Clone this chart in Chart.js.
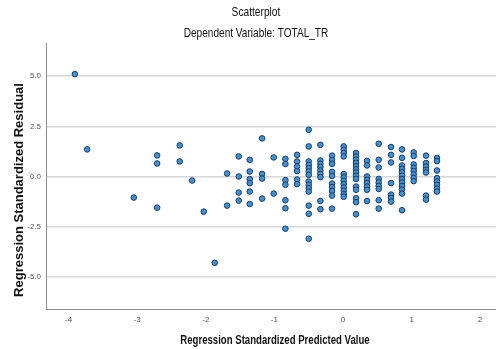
<!DOCTYPE html>
<html>
<head>
<meta charset="utf-8">
<script src="https://cdn.jsdelivr.net/npm/chart.js@4/dist/chart.umd.min.js"></script>
<style>
    html, body { margin: 0; padding: 0; background: #fff; }
    #wrap { width: 496px; height: 349px; }
</style>
</head>
<body>
<div id="wrap"><canvas id="scatter-chart"></canvas></div>
<script>
// Predicted value of each column of cases (x) and the residuals stacked in it (y)
const predictedCols = [-3.91, -3.73, -3.05, -2.71, -2.38, -2.20, -2.03, -1.87, -1.69, -1.52,
    -1.36, -1.18, -1.01, -0.84, -0.67, -0.50, -0.33, -0.16, 0.01, 0.19,
    0.35, 0.52, 0.70, 0.86, 1.03, 1.21, 1.37];
const residualCols = [
    [5.1],
    [1.35],
    [-1.05],
    [1.05, 0.65, -1.55],
    [1.55, 0.75],
    [-0.2],
    [-1.75],
    [-4.3],
    [0.15, -1.45],
    [1.0, 0.0, -0.8, -1.2],
    [0.83, 0.25, -0.13, -0.33, -0.75, -1.37],
    [1.9, 0.13, -0.1, -1.1],
    [0.95, -0.85],
    [0.88, 0.62, -0.18, -0.41, -1.18, -1.58, -2.6],
    [1.08, 0.75, 0.5, 0.27, -0.15, -0.38],
    [2.33, 1.5, 0.75, 0.58, 0.42, 0.25, 0.08, -0.25, -0.41, -0.58, -0.75, -1.45, -1.86, -3.1],
    [1.58, 0.8, 0.63, 0.47, 0.3, 0.13, -0.03, -1.22, -1.63],
    [1.04, 0.83, 0.63, 0.23, 0.03, -0.35, -0.53, -0.72, -0.95, -1.6],
    [1.5, 1.33, 1.17, 1.0, 0.12, -0.05, -0.21, -0.38, -0.55, -0.71, -0.88, -1.01],
    [1.17, 1.0, 0.84, 0.68, 0.52, 0.36, 0.2, 0.04, -0.12, -0.5, -0.66, -1.08, -1.28, -1.88],
    [0.78, 0.55, 0.0, -0.17, -0.33, -0.5, -0.66, -1.22],
    [1.63, 0.83, 0.45, -0.12, -0.3, -0.47, -0.62, -1.18, -1.6],
    [1.47, 1.08, 0.7, -0.33, -0.9, -1.07, -1.25],
    [1.35, 0.93, 0.55, 0.38, 0.21, 0.04, -0.13, -0.3, -0.47, -0.65, -0.85, -1.68],
    [1.2, 1.02, 0.6, 0.43, 0.27, 0.1, -0.07, -0.23],
    [1.04, 0.67, 0.5, 0.33, 0.2, -0.95, -1.15],
    [0.92, 0.77, 0.3, -0.08, -0.25, -0.42, -0.6, -0.75]
];
const xTicks = [-4, -3, -2, -1, 0, 1, 2];
const yTicks = [-5, -2.5, 0, 2.5, 5];

const FONT = '"Liberation Sans", Arial, sans-serif';

var points = [];
predictedCols.forEach(function (x, i) {
    residualCols[i].forEach(function (y) {
        points.push({ x: x, y: y });
    });
});

// squeezed horizontal text like the exported graph
function narrowText(ctx, text, x, y, font, squeeze) {
    ctx.save();
    ctx.font = font;
    ctx.translate(x, y);
    ctx.scale(squeeze, 1);
    ctx.fillText(text, 0, 0);
    ctx.restore();
}

// chart titles and axis titles
var titles = {
    id: 'titles',
    afterDraw: function (chart) {
        var ctx = chart.ctx;
        var area = chart.chartArea;
        ctx.save();
        ctx.fillStyle = '#111';
        ctx.textAlign = 'center';
        ctx.textBaseline = 'middle';
        narrowText(ctx, 'Scatterplot', 256, 13, '12px ' + FONT, 0.85);
        narrowText(ctx, 'Dependent Variable: TOTAL_TR', 256, 34, '12px ' + FONT, 0.84);
        narrowText(ctx, 'Regression Standardized Predicted Value', area.left + 229, 341, 'bold 12px ' + FONT, 0.8);
        ctx.font = 'bold 13px ' + FONT;
        ctx.translate(19, area.top + 147);
        ctx.rotate(-Math.PI / 2);
        ctx.fillText('Regression Standardized Residual', 0, 0);
        ctx.restore();
    }
};

var ctx = document.getElementById('scatter-chart').getContext('2d');
new Chart(ctx, {
    type: 'scatter',
    data: {
        datasets: [{
            label: 'Residual',
            data: points,
            pointRadius: 2.8,
            pointHoverRadius: 2.8,
            pointBackgroundColor: '#3d91d6',
            pointBorderColor: '#1e3c60',
            pointBorderWidth: 1
        }]
    },
    options: {
        responsive: true,
        maintainAspectRatio: false,
        animation: false,
        layout: { autoPadding: false, padding: { left: 16, right: 0, top: 43, bottom: 0 } },
        plugins: {
            legend: { display: false },
            tooltip: { enabled: false }
        },
        scales: {
            x: {
                type: 'linear',
                min: -4.33,
                max: 2.23,
                afterBuildTicks: function (scale) {
                    scale.ticks = xTicks.map(function (v) { return { value: v }; });
                },
                afterFit: function (scale) { scale.height = 40; },
                ticks: {
                    color: '#555',
                    font: { family: FONT, size: 8 },
                    padding: 6,
                    maxRotation: 0,
                    callback: function (v) { return String(v); }
                },
                grid: { display: false, drawTicks: false },
                border: { display: true, color: '#8f8f8f', width: 1 }
            },
            y: {
                type: 'linear',
                min: -6.6,
                max: 6.65,
                afterBuildTicks: function (scale) {
                    scale.ticks = yTicks.map(function (v) { return { value: v }; });
                },
                afterFit: function (scale) { scale.width = 30; },
                ticks: {
                    color: '#555',
                    font: { family: FONT, size: 8 },
                    padding: 5,
                    callback: function (v) { return v.toFixed(1); }
                },
                grid: { color: '#d6d6d6', lineWidth: 1.5, drawTicks: false },
                border: { display: true, color: '#8f8f8f', width: 1 }
            }
        }
    },
    plugins: [titles]
});
</script>
</body>
</html>
